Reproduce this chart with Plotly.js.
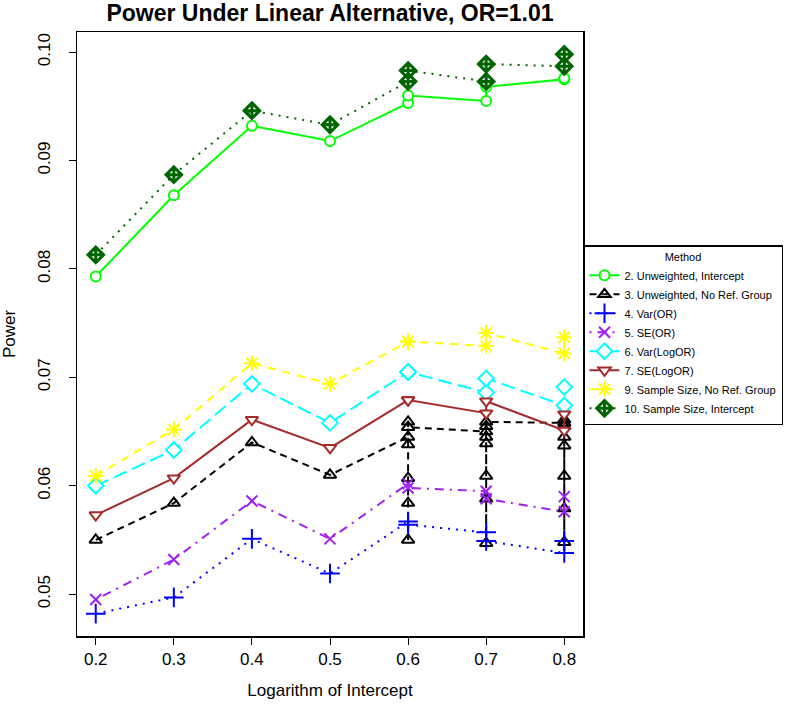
<!DOCTYPE html>
<html>
<head>
<meta charset="utf-8">
<script src="https://cdn.plot.ly/plotly-3.0.1.min.js"></script>
<style>
  html, body { margin: 0; padding: 0; background: #fff; }
  #chart { width: 785px; height: 718px; }
</style>
</head>
<body>
<div id="chart"></div>
<script>
// x positions: the last three intercepts were run twice
const x_main = [0.2, 0.3, 0.4, 0.5, 0.6, 0.6, 0.7, 0.7, 0.8, 0.8];
// method 3 has many runs stacked at the last three intercepts
const x_method3 = [0.2, 0.3, 0.4, 0.5,
  0.6, 0.6, 0.6, 0.6, 0.6, 0.6, 0.6,
  0.7, 0.7, 0.7, 0.7, 0.7, 0.7, 0.7, 0.7,
  0.8, 0.8, 0.8, 0.8, 0.8, 0.8, 0.8, 0.8];

const power_m2 = [0.0793, 0.0868, 0.0932, 0.0918, 0.0953, 0.0960, 0.0955, 0.0968, 0.0975, 0.0976];
const power_m3 = [0.0550, 0.0584, 0.0640, 0.0610,
  0.0645, 0.0638, 0.0607, 0.0584, 0.0550, 0.0659, 0.0654,
  0.0650, 0.0645, 0.0639, 0.0609, 0.0588, 0.0547, 0.0655, 0.0659,
  0.0658, 0.0655, 0.0645, 0.0637, 0.0609, 0.0579, 0.0548, 0.0661];
const power_m4 = [0.0482, 0.0497, 0.0551, 0.0519, 0.0567, 0.0564, 0.0557, 0.0549, 0.0538, 0.0549];
const power_m5 = [0.0495, 0.0532, 0.0586, 0.0551, 0.0602, 0.0598, 0.0595, 0.0588, 0.0576, 0.0590];
const power_m6 = [0.0600, 0.0633, 0.0694, 0.0658, 0.0705, 0.0705, 0.0686, 0.0699, 0.0674, 0.0691];
const power_m7 = [0.0573, 0.0607, 0.0661, 0.0635, 0.0679, 0.0679, 0.0667, 0.0678, 0.0651, 0.0666];
const power_m9 = [0.0609, 0.0652, 0.0713, 0.0694, 0.0733, 0.0733, 0.0729, 0.0741, 0.0722, 0.0737];
const power_m10 = [0.0813, 0.0887, 0.0946, 0.0933, 0.0973, 0.0983, 0.0973, 0.0989, 0.0987, 0.0998];

const method_names = [
  "2. Unweighted, Intercept",
  "3. Unweighted, No Ref. Group",
  "4. Var(OR)",
  "5. SE(OR)",
  "6. Var(LogOR)",
  "7. SE(LogOR)",
  "9. Sample Size, No Ref. Group",
  "10. Sample Size, Intercept",
];

const x_ticks = [0.2, 0.3, 0.4, 0.5, 0.6, 0.7, 0.8];
const y_ticks = [0.05, 0.06, 0.07, 0.08, 0.09, 0.10];
const y_tick_labels = ["0.05", "0.06", "0.07", "0.08", "0.09", "0.10"];

const make_trace = (name, x, y, color, dash, symbol, size, fill) => ({
  name: name,
  x: x,
  y: y,
  type: "scatter",
  mode: "lines+markers",
  line: { color: color, width: 2, dash: dash },
  marker: {
    symbol: symbol,
    size: size,
    color: fill || color,
    line: { color: color, width: 2 },
  },
});

const data = [
  make_trace(method_names[0], x_main, power_m2, "#00ff00", "solid", "circle", 10, "#ffffff"),
  make_trace(method_names[1], x_method3, power_m3, "#000000", "7px,5px", "triangle-up-open", 11),
  make_trace(method_names[2], x_main, power_m4, "#0000ff", "2px,6px", "cross-thin-open", 14),
  make_trace(method_names[3], x_main, power_m5, "#a020f0", "2px,6px,9px,6px", "x-thin-open", 11),
  make_trace(method_names[4], x_main, power_m6, "#00ffff", "14px,6px", "diamond", 12, "#ffffff"),
  make_trace(method_names[5], x_main, power_m7, "#a52a2a", "solid", "triangle-down", 11, "#ffffff"),
  make_trace(method_names[6], x_main, power_m9, "#ffff00", "8px,7px", "asterisk-open", 13),
  make_trace(method_names[7], x_main, power_m10, "#006400", "2px,6px", "diamond-cross-open", 12),
];
data[7].marker.line.width = 3;

const font_family = "Liberation Sans, Arial, Helvetica, sans-serif";

const layout = {
  width: 785,
  height: 718,
  margin: { l: 77, r: 202, t: 32, b: 82 },
  paper_bgcolor: "#ffffff",
  plot_bgcolor: "#ffffff",
  font: { family: font_family, color: "#000000", size: 17 },
  showlegend: true,
  title: {
    text: "<b>Power Under Linear Alternative, OR=1.01</b>",
    font: { size: 23, family: font_family },
    x: 0.5,
    xref: "paper",
    y: 1 - 13 / 718,
    yref: "container",
    yanchor: "middle",
  },
  xaxis: {
    title: { text: "Logarithm of Intercept", font: { size: 17 }, standoff: 16 },
    range: [0.176, 0.824],
    tickvals: x_ticks,
    tickformat: ".1f",
    ticks: "outside",
    ticklen: 7,
    tickwidth: 1,
    tickcolor: "#000000",
    showline: true,
    mirror: true,
    linecolor: "#000000",
    linewidth: 1.5,
    showgrid: false,
    zeroline: false,
    automargin: false,
    tickfont: { size: 17 },
  },
  yaxis: {
    title: { text: "Power", font: { size: 17 }, standoff: 16 },
    range: [0.04614, 0.10186],
    tickvals: y_ticks,
    ticktext: y_tick_labels,
    tickangle: -90,
    ticks: "outside",
    ticklen: 7,
    tickwidth: 1,
    tickcolor: "#000000",
    ticklabelstandoff: 12,
    showline: true,
    mirror: true,
    linecolor: "#000000",
    linewidth: 1.5,
    showgrid: false,
    zeroline: false,
    automargin: false,
    tickfont: { size: 17 },
  },
  legend: {
    x: 583 / 785,
    xanchor: "left",
    xref: "container",
    y: 1 - 335 / 718,
    yanchor: "middle",
    yref: "container",
    bgcolor: "#ffffff",
    bordercolor: "#000000",
    borderwidth: 1.5,
    font: { size: 11, family: font_family },
    title: { text: "Method", side: "top center", font: { size: 11 } },
    itemwidth: 30,
    tracegroupgap: 0,
  },
};

Plotly.newPlot("chart", data, layout, { displayModeBar: false, staticPlot: true });
</script>
</body>
</html>
